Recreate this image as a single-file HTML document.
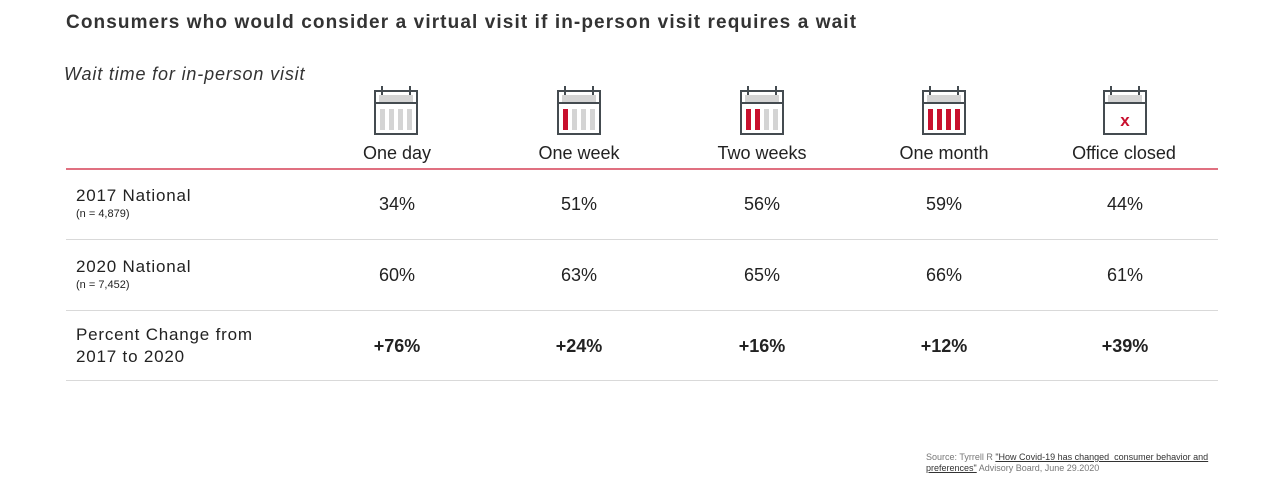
<!DOCTYPE html>
<html><head><meta charset="utf-8"><style>
body{margin:0;width:1280px;height:480px;background:#fff;font-family:"Liberation Sans",sans-serif;color:#222;position:relative;overflow:hidden}
.a{position:absolute;white-space:nowrap}
.c{transform:translateX(-50%);font-size:18px}
.l{position:absolute;left:66px;width:1152px;height:1px;background:#d9d9d9}
.r{font-size:17px;letter-spacing:0.8px}
</style></head><body>
<div class="a" style="left:66px;top:12px;font-size:19px;font-weight:bold;color:#333;letter-spacing:1.1px">Consumers who would consider a virtual visit if in-person visit requires a wait</div>
<div class="a" style="left:64px;top:64px;font-size:18px;font-style:italic;color:#333;letter-spacing:0.85px">Wait time for in-person visit</div>
<svg class="a" style="left:0;top:0" width="1280" height="170">
<defs><g id="cal">
<rect x="1" y="2" width="42" height="43" fill="#fff" stroke="#444b50" stroke-width="2"/>
<rect x="5" y="6" width="34" height="7" fill="#d4d4d4"/>
<line x1="2" y1="14" x2="42" y2="14" stroke="#444b50" stroke-width="2"/>
<line x1="8" y1="-3" x2="8" y2="6" stroke="#444b50" stroke-width="2"/>
<line x1="36" y1="-3" x2="36" y2="6" stroke="#444b50" stroke-width="2"/>
</g></defs>
<g transform="translate(374,89)"><use href="#cal"/><rect x="6" y="20" width="5" height="21" fill="#d4d4d4"/><rect x="15" y="20" width="5" height="21" fill="#d4d4d4"/><rect x="24" y="20" width="5" height="21" fill="#d4d4d4"/><rect x="33" y="20" width="5" height="21" fill="#d4d4d4"/></g>
<g transform="translate(557,89)"><use href="#cal"/><rect x="6" y="20" width="5" height="21" fill="#c8102e"/><rect x="15" y="20" width="5" height="21" fill="#d4d4d4"/><rect x="24" y="20" width="5" height="21" fill="#d4d4d4"/><rect x="33" y="20" width="5" height="21" fill="#d4d4d4"/></g>
<g transform="translate(740,89)"><use href="#cal"/><rect x="6" y="20" width="5" height="21" fill="#c8102e"/><rect x="15" y="20" width="5" height="21" fill="#c8102e"/><rect x="24" y="20" width="5" height="21" fill="#d4d4d4"/><rect x="33" y="20" width="5" height="21" fill="#d4d4d4"/></g>
<g transform="translate(922,89)"><use href="#cal"/><rect x="6" y="20" width="5" height="21" fill="#c8102e"/><rect x="15" y="20" width="5" height="21" fill="#c8102e"/><rect x="24" y="20" width="5" height="21" fill="#c8102e"/><rect x="33" y="20" width="5" height="21" fill="#c8102e"/></g>
<g transform="translate(1103,89)"><use href="#cal"/><text x="22" y="37" text-anchor="middle" font-family="Liberation Sans" font-weight="bold" font-size="17" fill="#c8102e">x</text></g>
</svg>
<div class="a c" style="left:397px;top:143px">One day</div>
<div class="a c" style="left:579px;top:143px">One week</div>
<div class="a c" style="left:762px;top:143px">Two weeks</div>
<div class="a c" style="left:944px;top:143px">One month</div>
<div class="a c" style="left:1124px;top:143px">Office closed</div>
<div class="a" style="left:66px;top:168px;width:1152px;height:2px;background:#e07080"></div>
<div class="a r" style="left:76px;top:186px">2017 National</div>
<div class="a" style="left:76px;top:208px;font-size:11px">(n = 4,879)</div>
<div class="a c" style="left:397px;top:194px">34%</div><div class="a c" style="left:579px;top:194px">51%</div><div class="a c" style="left:762px;top:194px">56%</div><div class="a c" style="left:944px;top:194px">59%</div><div class="a c" style="left:1125px;top:194px">44%</div>
<div class="l" style="top:239px"></div>
<div class="a r" style="left:76px;top:257px">2020 National</div>
<div class="a" style="left:76px;top:279px;font-size:11px">(n = 7,452)</div>
<div class="a c" style="left:397px;top:265px">60%</div><div class="a c" style="left:579px;top:265px">63%</div><div class="a c" style="left:762px;top:265px">65%</div><div class="a c" style="left:944px;top:265px">66%</div><div class="a c" style="left:1125px;top:265px">61%</div>
<div class="l" style="top:310px"></div>
<div class="a r" style="left:76px;top:324px;line-height:22px">Percent Change from<br>2017 to 2020</div>
<div class="a c" style="left:397px;top:336px;font-weight:bold">+76%</div><div class="a c" style="left:579px;top:336px;font-weight:bold">+24%</div><div class="a c" style="left:762px;top:336px;font-weight:bold">+16%</div><div class="a c" style="left:944px;top:336px;font-weight:bold">+12%</div><div class="a c" style="left:1125px;top:336px;font-weight:bold">+39%</div>
<div class="l" style="top:380px"></div>
<div class="a" style="left:926px;top:452px;font-size:9px;line-height:11px;color:#777">Source: Tyrrell R <u style="color:#333">"How Covid-19 has changed &nbsp;consumer behavior and</u><br><u style="color:#333">preferences"</u> Advisory Board, June 29.2020</div>
</body></html>
